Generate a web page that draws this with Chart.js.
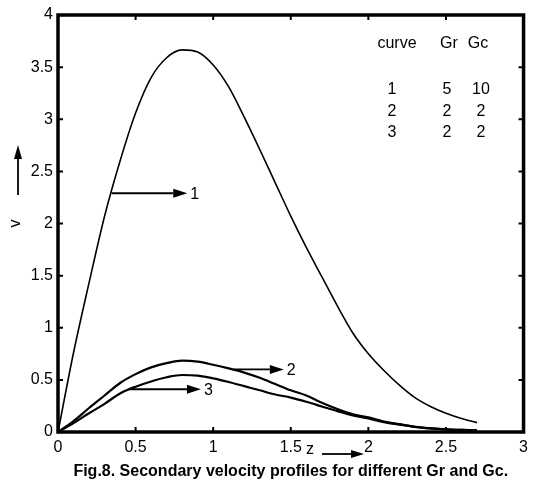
<!DOCTYPE html>
<html>
<head>
<meta charset="utf-8">
<script src="https://cdn.jsdelivr.net/npm/chart.js@4"></script>
<style>
  body { margin: 0; background: #fff; }
  #wrap { width: 534px; height: 485px; }
</style>
</head>
<body>
<div id="wrap"><canvas id="stage" width="534" height="485"></canvas></div>
<script>
const zVals = [0, 0.1, 0.2, 0.3, 0.4, 0.5, 0.6, 0.7, 0.8, 0.9, 1.0, 1.1, 1.2, 1.3, 1.4,
  1.5, 1.6, 1.7, 1.8, 1.9, 2.0, 2.1, 2.2, 2.3, 2.4, 2.5, 2.6, 2.7];

// curve 1 : Gr=5, Gc=10
const v1 = [0, 0.76, 1.43, 2.07, 2.60, 3.06, 3.40, 3.59, 3.665, 3.645, 3.52, 3.31, 3.02, 2.71, 2.39,
  2.07, 1.77, 1.49, 1.21, 0.95, 0.75, 0.59, 0.45, 0.33, 0.245, 0.18, 0.13, 0.09];
// curve 2 : Gr=2, Gc=2
const v2 = [0, 0.105, 0.23, 0.35, 0.47, 0.555, 0.62, 0.66, 0.684, 0.675, 0.645, 0.61, 0.57, 0.52, 0.46,
  0.40, 0.35, 0.28, 0.22, 0.17, 0.14, 0.10, 0.075, 0.05, 0.035, 0.025, 0.02, 0.015];
// curve 3 : Gr=5, Gc=2
const v3 = [0, 0.085, 0.18, 0.27, 0.37, 0.435, 0.485, 0.525, 0.547, 0.54, 0.515, 0.48, 0.44, 0.40, 0.36,
  0.33, 0.29, 0.245, 0.20, 0.16, 0.13, 0.095, 0.07, 0.05, 0.035, 0.025, 0.02, 0.015];

// table in the upper right
const curveIds = ['1', '2', '3'];
const grVals = ['5', '2', '2'];
const gcVals = ['10', '2', '2'];

// arrow pointers to each curve (z from, z to, v)
const pointers = [
  { label: '1', from: 0.345, to: 0.833, v: 2.29 },
  { label: '2', from: 1.135, to: 1.455, v: 0.60 },
  { label: '3', from: 0.46, to: 0.921, v: 0.41 }
];

const FONT = '"Liberation Sans", Arial, sans-serif';

function pts(vs) {
  return zVals.map((z, i) => ({ x: z, y: vs[i] }));
}

function arrow(ctx, x1, y1, x2, y2, len, w) {
  const ang = Math.atan2(y2 - y1, x2 - x1);
  const bx = x2 - len * Math.cos(ang), by = y2 - len * Math.sin(ang);
  ctx.beginPath();
  ctx.moveTo(x1, y1);
  ctx.lineTo(bx, by);
  ctx.stroke();
  ctx.beginPath();
  ctx.moveTo(x2, y2);
  ctx.lineTo(bx + w * Math.sin(ang), by - w * Math.cos(ang));
  ctx.lineTo(bx - w * Math.sin(ang), by + w * Math.cos(ang));
  ctx.closePath();
  ctx.fill();
}

const extras = {
  id: 'extras',
  afterDraw(chart) {
    const { ctx, chartArea: a, scales: { x, y } } = chart;
    ctx.save();
    ctx.strokeStyle = '#000';
    ctx.fillStyle = '#000';

    // box
    ctx.lineWidth = 3.5;
    ctx.strokeRect(a.left, a.top, a.right - a.left, a.bottom - a.top);

    // inward ticks on all four sides
    ctx.lineWidth = 2;
    ctx.beginPath();
    x.ticks.forEach(t => {
      const px = x.getPixelForValue(t.value);
      ctx.moveTo(px, a.bottom); ctx.lineTo(px, a.bottom - 5);
      ctx.moveTo(px, a.top); ctx.lineTo(px, a.top + 5);
    });
    y.ticks.forEach(t => {
      const py = y.getPixelForValue(t.value);
      ctx.moveTo(a.left, py); ctx.lineTo(a.left + 5, py);
      ctx.moveTo(a.right, py); ctx.lineTo(a.right - 5, py);
    });
    ctx.stroke();

    // pointers
    ctx.lineWidth = 1.8;
    ctx.font = '16px ' + FONT;
    ctx.textAlign = 'left';
    ctx.textBaseline = 'middle';
    pointers.forEach(p => {
      const py = y.getPixelForValue(p.v);
      const x1 = x.getPixelForValue(p.from), x2 = x.getPixelForValue(p.to);
      arrow(ctx, x1, py, x2, py, 14, 4.5);
      ctx.fillText(p.label, x2 + 3, py + 1);
    });

    // table
    ctx.textAlign = 'center';
    ctx.fillText('curve', 397, 44);
    ctx.fillText('Gr', 449, 44);
    ctx.fillText('Gc', 478, 44);
    curveIds.forEach((c, i) => {
      const ty = 90 + i * 21.5;
      ctx.fillText(c, 392, ty);
      ctx.fillText(grVals[i], 447, ty);
      ctx.fillText(gcVals[i], 481, ty);
    });

    // y label arrow
    arrow(ctx, 18, 195, 18, 145, 14, 4);

    // z label and arrow
    ctx.fillText('z', 310, a.bottom + 18);
    arrow(ctx, 322, a.bottom + 22, 364, a.bottom + 22, 13, 4);
    ctx.restore();
  }
};

new Chart(document.getElementById('stage'), {
  type: 'line',
  data: {
    datasets: [
      { label: 'curve 1', data: pts(v1), borderColor: '#000', borderWidth: 1.6 },
      { label: 'curve 2', data: pts(v2), borderColor: '#000', borderWidth: 2.2 },
      { label: 'curve 3', data: pts(v3), borderColor: '#000', borderWidth: 2.2 }
    ]
  },
  options: {
    responsive: false,
    animation: false,
    events: [],
    elements: { point: { radius: 0 }, line: { cubicInterpolationMode: 'monotone' } },
    layout: { padding: { left: 0, top: 15, right: 8, bottom: 0 } },
    plugins: {
      legend: { display: false },
      tooltip: { enabled: false },
      title: {
        display: true,
        position: 'bottom',
        fullSize: false,
        text: 'Fig.8. Secondary velocity profiles for different Gr and Gc.',
        color: '#000',
        font: { family: FONT, size: 16, weight: 'bold', lineHeight: 1.2 },
        padding: { top: 3, bottom: 4 }
      }
    },
    scales: {
      x: {
        type: 'linear',
        min: 0, max: 3,
        grid: { display: false, drawTicks: false },
        border: { display: false },
        ticks: { stepSize: 0.5, color: '#000', padding: 6, maxRotation: 0, autoSkip: false,
          font: { family: FONT, size: 16 }, callback: v => String(v) },
        afterFit(s) { s.height = 26.8; }
      },
      y: {
        min: 0, max: 4,
        grid: { display: false, drawTicks: false },
        border: { display: false },
        ticks: { stepSize: 0.5, color: '#000', padding: 5, font: { family: FONT, size: 16 },
          callback: v => String(v) },
        title: { display: true, text: 'v', color: '#000', padding: { top: 6, bottom: 0 },
          font: { family: FONT, size: 16 } },
        afterFit(s) { s.width = 58; }
      }
    }
  },
  plugins: [extras]
});
</script>
</body>
</html>
